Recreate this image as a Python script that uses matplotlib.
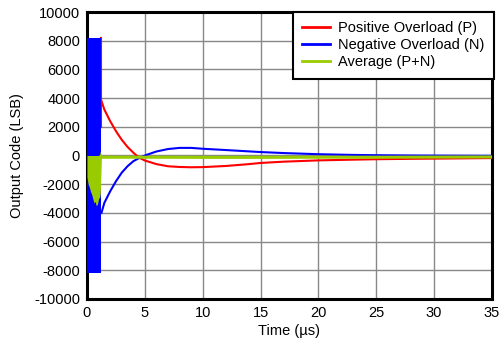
import matplotlib
matplotlib.use("Agg")
import matplotlib.pyplot as plt
import numpy as np

plt.rcParams['font.family'] = ['Liberation Sans', 'DejaVu Sans']
plt.rcParams['axes.unicode_minus'] = False

# Settled responses (time in us, output code in LSB)
t_pos = [1.25, 1.5, 2.0, 2.5, 3.0, 3.5, 4.0, 4.5, 5.0, 6.0, 7.0, 8.0, 9.0, 10.0,
         12.0, 14.0, 15.0, 17.0, 20.0, 23.0, 25.0, 28.0, 31.0, 35.0]
v_pos = [3800, 3200, 2400, 1700, 1100, 600, 200, -150, -350, -600, -750, -800, -820, -810,
         -730, -600, -520, -430, -340, -290, -260, -230, -210, -180]

t_neg = [1.25, 1.5, 2.0, 2.5, 3.0, 3.5, 4.0, 4.5, 5.0, 6.0, 7.0, 8.0, 9.0, 10.0,
         12.0, 15.0, 17.0, 20.0, 23.0, 25.0, 28.0, 31.0, 35.0]
v_neg = [-4000, -3300, -2500, -1800, -1200, -750, -400, -180, 0, 280, 450, 530, 530, 470,
         380, 240, 170, 90, 40, 20, 0, -10, -20]

t_avg = [1.25, 3.0, 5.0, 10.0, 15.0, 20.0, 25.0, 30.0, 35.0]
v_avg = [-120, -120, -120, -130, -130, -120, -120, -110, -100]

# Overload (fast oscillation) envelopes during the overload interval
t_env = [0.0, 1.2]
neg_hi = [8200, 8200]
neg_lo = [-8200, -8200]
red_step_t = [1.22, 1.22]
red_step_v = [8200, 2000]

t_avg_env = [0.0, 0.1, 0.2, 0.3, 0.4, 0.5, 0.6, 0.7, 0.8, 0.9, 1.0, 1.1, 1.15, 1.25]
avg_hi = [0, 0, 0, 0, 0, 0, 0, 0, 0, 0, 0, 100, 300, 0]
avg_lo = [-1500, -2000, -2200, -2500, -2700, -3000, -3300, -3200, -3500, -3400, -3000,
          -2900, -2600, -120]

labels = ["Positive Overload (P)", "Negative Overload (N)", "Average (P+N)"]
colors = ["#ff0000", "#0000ff", "#99cc00"]
xticks = [0, 5, 10, 15, 20, 25, 30, 35]
yticks = [-10000, -8000, -6000, -4000, -2000, 0, 2000, 4000, 6000, 8000, 10000]

fig = plt.figure(figsize=(5.02, 3.43), dpi=100)
ax = fig.add_axes([0.1733, 0.1283, 0.8067, 0.8367])

ax.plot(red_step_t, red_step_v, color=colors[0], lw=1.5, zorder=3)
ax.plot(t_pos, v_pos, color=colors[0], lw=1.5, label=labels[0], zorder=3)
ax.fill_between(t_env, neg_lo, neg_hi, color=colors[1], lw=0, zorder=4)
ax.plot(t_neg, v_neg, color=colors[1], lw=1.5, label=labels[1], zorder=4)
ax.fill_between(t_avg_env, avg_lo, avg_hi, color=colors[2], lw=0, zorder=5)
ax.plot(t_avg, v_avg, color=colors[2], lw=2.2, label=labels[2], zorder=5)

ax.set_xlim(0, 35)
ax.set_ylim(-10000, 10000)
ax.set_xticks(xticks)
ax.set_yticks(yticks)
ax.tick_params(length=0, labelsize=10.5, pad=5, colors='black')
ax.grid(True, color='#888888', lw=1)
ax.set_axisbelow(True)
for s in ax.spines.values():
    s.set_linewidth(2.2)
    s.set_color('black')

ax.set_xlabel("Time (\u00b5s)", fontsize=10.5, labelpad=3)
ax.set_ylabel("Output Code (LSB)", fontsize=10.5, labelpad=7)

leg = ax.legend(loc='upper right', bbox_to_anchor=(1.005, 1.0), fontsize=10.5,
                frameon=True, fancybox=False, framealpha=1, edgecolor='black',
                handlelength=1.9, handletextpad=0.55, labelspacing=0.2,
                borderpad=0.65, borderaxespad=0)
leg.get_frame().set_linewidth(1.5)
for h in leg.get_lines():
    h.set_linewidth(2)

fig.savefig("out.png", dpi=100)
